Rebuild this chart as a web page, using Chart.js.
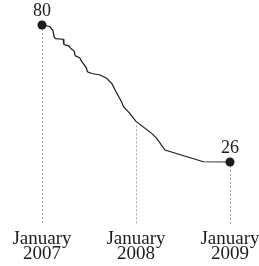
<!DOCTYPE html>
<html>
<head>
<meta charset="utf-8">
<script src="https://cdn.jsdelivr.net/npm/chart.js@4"></script>
<style>
  html, body { margin: 0; padding: 0; background: #fff; }
  #wrap { position: relative; width: 259px; height: 266px; }
</style>
</head>
<body>
<div id="wrap"><canvas id="c"></canvas></div>
<script>
// Months since January 2007
const months = [0, 0.4, 1, 1.4, 1.55, 1.7, 2.7, 2.8, 3.4, 3.75, 4.1, 4.25, 4.8, 5.1, 5.25, 5.65, 5.8, 6.4, 7.4, 8.25, 8.9, 9.55, 10.15, 10.4, 11.15, 12, 14, 14.65, 15.7, 20.6, 24];
const values = [80, 79.9, 79.3, 77.9, 75.3, 74.6, 74.4, 72.3, 71.8, 70.5, 69.7, 67.9, 67.1, 65.5, 64.9, 63.2, 61.6, 60.9, 60.3, 59.0, 57.0, 53.1, 49.8, 47.8, 45.4, 42, 37.3, 35.3, 30.7, 26.1, 26];
const tickMonths = [0, 12, 24];
const tickLabels = [["January", "2007"], ["January", "2008"], ["January", "2009"]];

const points = months.map((m, i) => ({ x: m, y: values[i] }));
const SERIF = "'Liberation Serif', 'DejaVu Serif', serif";
const INK = '#1c1c1c';

const guidePlugin = {
  id: 'guides',
  beforeDatasetsDraw(chart) {
    const { ctx, scales: { x, y }, chartArea } = chart;
    ctx.save();
    ctx.strokeStyle = '#a8a8a8';
    ctx.lineWidth = 1;
    ctx.setLineDash([2, 2]);
    tickMonths.forEach(m => {
      const idx = months.indexOf(m);
      const px = Math.round(x.getPixelForValue(m)) + 0.5;
      const py = y.getPixelForValue(values[idx]) + 4;
      ctx.beginPath();
      ctx.moveTo(px, py);
      ctx.lineTo(px, chartArea.bottom - 3);
      ctx.stroke();
    });
    ctx.restore();
  },
  afterDatasetsDraw(chart) {
    const { ctx, scales: { x, y } } = chart;
    ctx.save();
    ctx.fillStyle = INK;
    ctx.font = "18px " + SERIF;
    ctx.textAlign = 'center';
    ctx.textBaseline = 'alphabetic';
    [0, values.length - 1].forEach(i => {
      const px = x.getPixelForValue(months[i]);
      const py = y.getPixelForValue(values[i]);
      ctx.fillText(String(values[i]), px, py - 9);
    });
    ctx.restore();
  }
};

new Chart(document.getElementById('c'), {
  type: 'line',
  data: {
    datasets: [{
      data: points,
      borderColor: INK,
      borderWidth: 1.2,
      tension: 0,
      pointRadius: ctx => (ctx.dataIndex === 0 || ctx.dataIndex === values.length - 1) ? 4.5 : 0,
      pointBackgroundColor: INK,
      pointBorderColor: INK,
      pointBorderWidth: 0,
      clip: false
    }]
  },
  options: {
    responsive: true,
    maintainAspectRatio: false,
    animation: false,
    events: [],
    layout: { padding: { left: 42, right: 29, top: 25, bottom: 0 } },
    plugins: { legend: { display: false }, tooltip: { enabled: false } },
    scales: {
      x: {
        type: 'linear',
        min: 0,
        max: 24,
        grid: { display: false, drawTicks: false },
        border: { display: false },
        afterBuildTicks: axis => { axis.ticks = tickMonths.map(v => ({ value: v })); },
        afterFit: axis => { axis.paddingLeft = 0; axis.paddingRight = 0; axis.height = 38; },
        ticks: {
          autoSkip: false,
          maxRotation: 0,
          padding: 4,
          color: INK,
          font: { family: SERIF, size: 19, lineHeight: 0.78 },
          callback: v => tickLabels[tickMonths.indexOf(v)]
        }
      },
      y: {
        display: false,
        min: 0,
        max: 80
      }
    }
  },
  plugins: [guidePlugin]
});
</script>
</body>
</html>
